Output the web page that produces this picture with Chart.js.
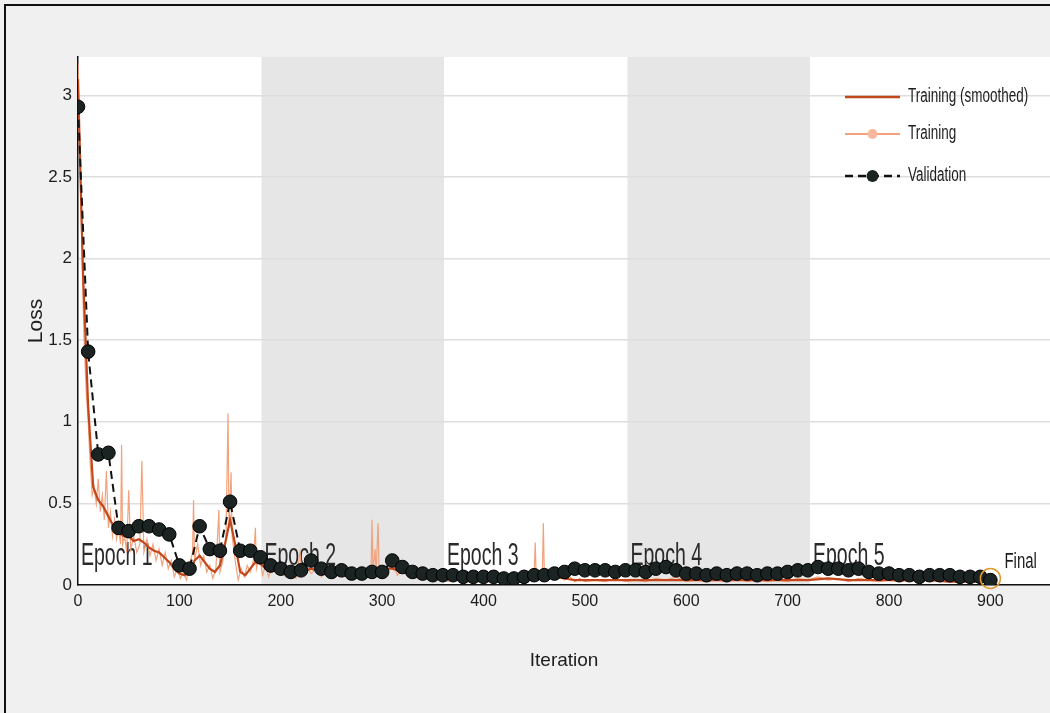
<!DOCTYPE html>
<html>
<head>
<meta charset="utf-8">
<script src="https://cdn.jsdelivr.net/npm/chart.js@4.4.1/dist/chart.umd.min.js"></script>
<style>
  html, body { margin: 0; padding: 0; background: #f0f0f0; }
  #wrap { position: relative; width: 1050px; height: 713px; overflow: hidden; }
  #frame { position: absolute; left: 4px; top: 4px; width: 1100px; height: 800px;
           border-left: 2px solid #111; border-top: 2px solid #111; pointer-events: none; }
  canvas { position: absolute; left: 0; top: 0; }
</style>
</head>
<body>
<div id="wrap">
  <canvas id="c" width="1058" height="713"></canvas>
  <div id="frame"></div>
</div>
<script>
// ---------- data ----------
const xTicks = [0, 100, 200, 300, 400, 500, 600, 700, 800, 900];
const yTicks = [0, 0.5, 1, 1.5, 2, 2.5, 3];

const epochNames  = ["Epoch 1", "Epoch 2", "Epoch 3", "Epoch 4", "Epoch 5"];
const epochStarts = [0, 181, 361, 542, 722];
const epochEnd    = 902;

const valIter = [0,10,20,30,40,50,60,70,80,90,100,110,120,130,140,150,160,170,180,190,
  200,210,220,230,240,250,260,270,280,290,300,310,320,330,340,350,360,370,380,390,
  400,410,420,430,440,450,460,470,480,490,500,510,520,530,540,550,560,570,580,590,
  600,610,620,630,640,650,660,670,680,690,700,710,720,730,740,750,760,770,780,790,
  800,810,820,830,840,850,860,870,880,890,900];
const valLoss = [2.93,1.43,0.80,0.81,0.35,0.33,0.36,0.36,0.34,0.31,0.12,0.10,0.36,0.22,0.21,0.51,0.21,0.21,0.17,0.12,
  0.10,0.08,0.09,0.15,0.10,0.08,0.09,0.07,0.07,0.08,0.08,0.15,0.11,0.08,0.07,0.06,0.06,0.06,0.05,0.05,
  0.05,0.05,0.04,0.04,0.05,0.06,0.06,0.07,0.08,0.10,0.09,0.09,0.09,0.08,0.09,0.09,0.08,0.10,0.11,0.09,
  0.07,0.07,0.06,0.07,0.06,0.07,0.07,0.06,0.07,0.07,0.08,0.09,0.09,0.11,0.10,0.10,0.09,0.10,0.08,0.07,
  0.07,0.06,0.06,0.05,0.06,0.06,0.06,0.05,0.05,0.05,0.03];

const smoothIter = [0,5,10,15,20,25,30,35,40,45,50,55,60,65,70,75,80,85,90,95,100,105,110,115,120,125,130,135,140,145,
  150,155,160,165,170,175,180,185,190,195,200,210,220,230,240,250,260,270,280,290,300,310,320,330,340,350,360,370,380,390,
  400,410,420,430,440,450,460,470,480,490,500,520,540,560,580,600,620,640,660,680,700,720,740,760,780,800,820,840,860,880,900];
const smoothLoss = [3.1,1.9,1.1,0.6,0.52,0.48,0.42,0.36,0.32,0.30,0.30,0.27,0.28,0.26,0.23,0.21,0.20,0.17,0.14,0.10,0.07,0.06,0.08,0.15,0.18,0.14,0.10,0.08,0.12,0.25,
  0.40,0.25,0.08,0.06,0.10,0.14,0.13,0.10,0.08,0.09,0.08,0.07,0.08,0.10,0.08,0.07,0.06,0.06,0.07,0.09,0.10,0.10,0.08,0.06,0.05,0.05,0.04,0.04,0.04,0.03,
  0.03,0.03,0.03,0.03,0.04,0.06,0.07,0.05,0.04,0.03,0.03,0.03,0.03,0.03,0.03,0.03,0.03,0.03,0.03,0.03,0.03,0.03,0.04,0.03,0.03,0.03,0.03,0.03,0.02,0.02,0.02];

const rawIter = [0,2,4,6,8,10,12,14,16,18,20,22,24,26,28,30,32,34,36,38,40,42,43,44,46,48,50,52,55,58,
  61,63,65,68,71,74,77,80,83,86,89,92,95,98,101,104,107,110,113,114,115,118,121,124,127,130,133,136,139,140,
  143,146,148,149,151,152,155,158,161,164,167,170,173,175,176,179,182,185,188,191,195,200,205,210,215,219,221,225,230,235,
  240,245,250,255,260,265,270,275,280,285,289,290,291,293,294,296,297,300,305,310,315,320,325,330,335,340,345,350,355,360,
  365,370,375,380,385,390,395,400,405,410,415,420,425,430,435,440,445,450,451,452,455,458,459,460,465,470,475,480,485,490,
  495,500,510,520,530,540,550,560,570,580,590,600,610,620,630,640,650,660,670,680,690,700,710,720,730,740,750,760,770,780,
  790,800,810,820,830,840,850,860,870,880,890,900];
const rawLoss = [3.2,2.6,2.0,1.5,1.2,1.0,0.75,0.55,0.6,0.5,0.65,0.45,0.55,0.4,0.7,0.35,0.45,0.3,0.4,0.28,0.35,0.25,0.86,0.25,0.3,0.2,0.58,0.22,0.3,0.2,
  0.25,0.76,0.2,0.28,0.18,0.25,0.15,0.22,0.12,0.2,0.1,0.15,0.05,0.1,0.04,0.08,0.03,0.12,0.2,0.52,0.15,0.25,0.12,0.18,0.08,0.12,0.04,0.1,0.46,0.08,
  0.15,0.3,1.05,0.35,0.69,0.3,0.15,0.03,0.1,0.05,0.12,0.08,0.15,0.35,0.1,0.18,0.06,0.12,0.05,0.1,0.08,0.1,0.05,0.08,0.04,0.2,0.06,0.12,0.07,0.1,
  0.05,0.09,0.04,0.08,0.05,0.07,0.04,0.08,0.05,0.1,0.06,0.4,0.08,0.22,0.07,0.38,0.09,0.12,0.07,0.14,0.06,0.1,0.05,0.07,0.04,0.06,0.03,0.05,0.03,0.05,
  0.02,0.05,0.03,0.04,0.02,0.04,0.02,0.03,0.02,0.04,0.02,0.03,0.02,0.04,0.02,0.05,0.03,0.06,0.26,0.05,0.08,0.05,0.38,0.06,0.1,0.04,0.06,0.03,0.05,0.02,
  0.04,0.02,0.03,0.02,0.04,0.02,0.03,0.02,0.04,0.03,0.05,0.02,0.03,0.02,0.03,0.02,0.04,0.02,0.03,0.02,0.03,0.02,0.04,0.03,0.05,0.03,0.04,0.02,0.04,0.03,
  0.02,0.03,0.02,0.03,0.02,0.03,0.02,0.02,0.03,0.02,0.02,0.02];

const finalIter = 900;
const finalLoss = 0.04;

// ---------- styles ----------
const FONT = "'Liberation Sans', Arial, sans-serif";
const C_SMOOTH = '#c2471b';
const C_RAW = '#f2a27c';
const C_VAL = '#111111';
const C_BAND = '#e6e6e6';
const C_TEXT = '#1c1c1c';

const toXY = (xs, ys) => xs.map((x, i) => ({ x: x, y: ys[i] }));

function stretchedText(ctx, text, x, y, size, sy, align) {
  ctx.save();
  ctx.font = size + 'px ' + FONT;
  ctx.textAlign = align || 'left';
  ctx.textBaseline = 'alphabetic';
  ctx.translate(x, y);
  ctx.scale(1, sy);
  ctx.fillText(text, 0, 0);
  ctx.restore();
}

const decor = {
  id: 'decor',
  beforeDraw(chart) {
    const { ctx, chartArea: a, scales: { x } } = chart;
    ctx.save();
    ctx.fillStyle = '#ffffff';
    ctx.fillRect(a.left, a.top, a.right - a.left, a.bottom - a.top);
    ctx.fillStyle = C_BAND;
    epochStarts.forEach((s, i) => {
      if (i % 2 === 1) {
        const e = i + 1 < epochStarts.length ? epochStarts[i + 1] : epochEnd;
        const x0 = x.getPixelForValue(s), x1 = x.getPixelForValue(e);
        ctx.fillRect(x0, a.top, x1 - x0, a.bottom - a.top);
      }
    });
    ctx.restore();
  },
  beforeDatasetsDraw(chart) {
    const { ctx, chartArea: a, scales: { x } } = chart;
    ctx.save();
    ctx.beginPath();
    ctx.rect(a.left, a.top, a.right - a.left, a.bottom - a.top);
    ctx.clip();
    ctx.fillStyle = '#2a2a2a';
    epochStarts.forEach((s, i) => {
      stretchedText(ctx, epochNames[i], x.getPixelForValue(s) + 3, a.bottom - 20, 19.5, 1.6);
    });
    ctx.restore();
  },
  afterDatasetsDraw(chart) {
    const { ctx, chartArea: a, scales: { x, y } } = chart;
    ctx.save();
    const fx = x.getPixelForValue(finalIter), fy = y.getPixelForValue(finalLoss);
    ctx.strokeStyle = '#e09a30';
    ctx.lineWidth = 1.5;
    ctx.beginPath();
    ctx.arc(fx, fy, 10, 0, Math.PI * 2);
    ctx.stroke();
    ctx.fillStyle = C_TEXT;
    stretchedText(ctx, 'Final', fx + 14, a.bottom - 17, 15, 1.5);

    const R = 1050;
    const lx0 = R - 205, lx1 = R - 150, tx = R - 142;
    const rows = [a.top + 40, a.top + 77, a.top + 119];
    ctx.strokeStyle = C_SMOOTH; ctx.lineWidth = 2.5;
    ctx.beginPath(); ctx.moveTo(lx0, rows[0]); ctx.lineTo(lx1, rows[0]); ctx.stroke();
    ctx.strokeStyle = C_RAW; ctx.lineWidth = 2;
    ctx.beginPath(); ctx.moveTo(lx0, rows[1]); ctx.lineTo(lx1, rows[1]); ctx.stroke();
    ctx.fillStyle = '#f6b9a0';
    ctx.beginPath(); ctx.arc((lx0 + lx1) / 2, rows[1], 5, 0, Math.PI * 2); ctx.fill();
    ctx.strokeStyle = C_VAL; ctx.lineWidth = 2.5;
    ctx.setLineDash([8, 5]);
    ctx.beginPath(); ctx.moveTo(lx0, rows[2]); ctx.lineTo(lx1, rows[2]); ctx.stroke();
    ctx.setLineDash([]);
    ctx.fillStyle = '#1b2323';
    ctx.beginPath(); ctx.arc((lx0 + lx1) / 2, rows[2], 6, 0, Math.PI * 2); ctx.fill();
    ctx.fillStyle = C_TEXT;
    stretchedText(ctx, 'Training (smoothed)', tx, rows[0] + 5, 13.5, 1.45);
    stretchedText(ctx, 'Training', tx, rows[1] + 5, 13.5, 1.45);
    stretchedText(ctx, 'Validation', tx, rows[2] + 5, 13.5, 1.45);
    ctx.restore();
  }
};

new Chart(document.getElementById('c'), {
  type: 'scatter',
  data: {
    datasets: [
      {
        label: 'Validation',
        data: toXY(valIter, valLoss),
        showLine: true,
        borderColor: C_VAL,
        borderWidth: 2,
        borderDash: [8, 5],
        pointRadius: 6.8,
        pointBackgroundColor: '#1b2323',
        pointBorderColor: '#000000',
        pointBorderWidth: 1,
        order: 0
      },
      {
        label: 'Training (smoothed)',
        data: toXY(smoothIter, smoothLoss),
        showLine: true,
        borderColor: C_SMOOTH,
        borderWidth: 2.2,
        pointRadius: 0,
        order: 1
      },
      {
        label: 'Training',
        data: toXY(rawIter, rawLoss),
        showLine: true,
        borderColor: C_RAW,
        borderWidth: 1.2,
        pointRadius: 0,
        order: 2
      }
    ]
  },
  options: {
    responsive: false,
    animation: false,
    devicePixelRatio: 1,
    layout: { padding: { top: 57, right: 0, left: 0, bottom: 0 } },
    plugins: { legend: { display: false }, tooltip: { enabled: false } },
    scales: {
      x: {
        type: 'linear',
        min: 0,
        max: 959,
        afterBuildTicks: (s) => { s.ticks = xTicks.map(v => ({ value: v })); },
        afterFit: (s) => { s.height = 713 - 585; },
        grid: { display: false, drawTicks: false },
        border: { display: true, color: '#111', width: 1.5 },
        ticks: { color: C_TEXT, padding: 7, maxRotation: 0, font: { family: FONT, size: 16 }, callback: (v) => String(v) },
        title: { display: true, text: 'Iteration', color: C_TEXT, font: { family: FONT, size: 19 }, padding: { top: 0, bottom: 41 } }
      },
      y: {
        type: 'linear',
        min: 0,
        max: 3.235,
        afterBuildTicks: (s) => { s.ticks = yTicks.map(v => ({ value: v })); },
        afterFit: (s) => { s.width = 78; },
        grid: { color: '#dedede', lineWidth: 1.5, drawTicks: false },
        border: { display: true, color: '#111', width: 1.5 },
        ticks: { color: C_TEXT, padding: 6, font: { family: FONT, size: 17 }, callback: (v) => String(v) },
        title: { display: true, text: 'Loss', color: C_TEXT, font: { family: FONT, size: 21 }, padding: { top: 24, bottom: 0 } }
      }
    }
  },
  plugins: [decor]
});
</script>
</body>
</html>
